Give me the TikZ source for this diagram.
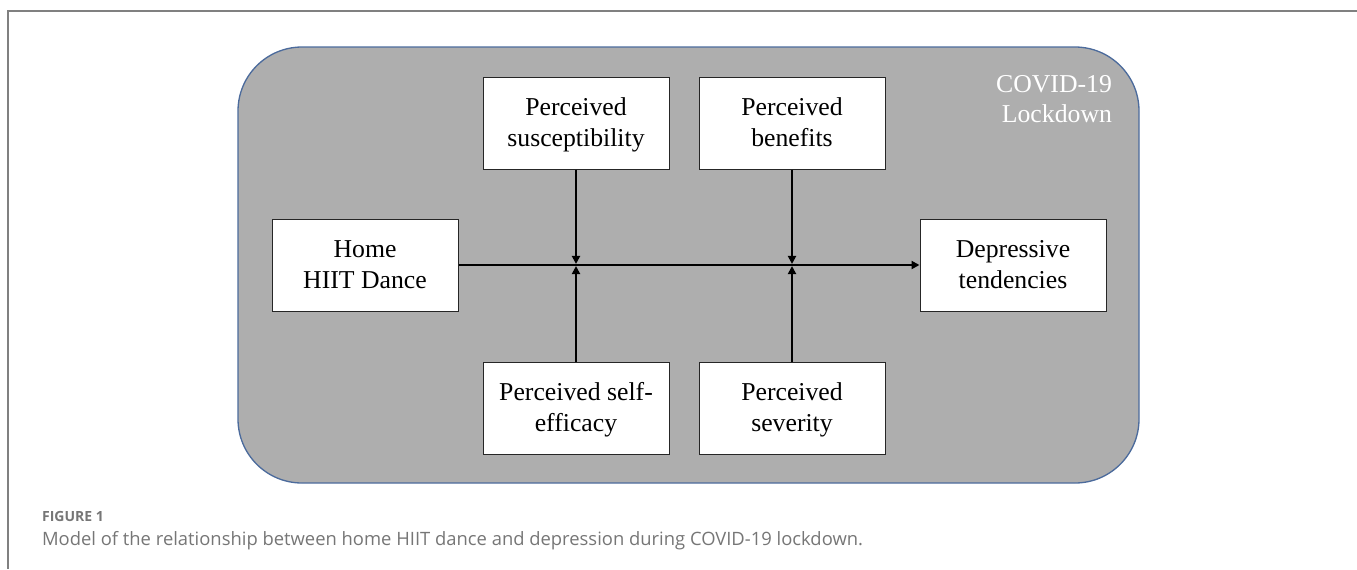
\documentclass[tikz,border=0pt]{standalone}
\usepackage{fontspec}
\setmainfont{Liberation Serif}
\newfontfamily\capfont{Open Sans}
\usetikzlibrary{arrows.meta}
\definecolor{panelgray}{RGB}{174,174,174}
\definecolor{panelblue}{RGB}{76,107,156}
\definecolor{framegray}{RGB}{128,128,128}
\definecolor{capgray}{RGB}{118,118,118}
\newcommand{\bstrut}{\rule[-4.5pt]{0pt}{20.25pt}}

\begin{document}
\begin{tikzpicture}[x=0.75pt, y=-0.75pt, ->, >={Triangle[length=6pt, width=6pt]}, line width=1.6pt,
    main/.style = {draw=black!85, line width=0.75pt, fill=white, minimum width=139.5pt, minimum height=69pt, inner sep=0pt, align=center, font=\fontsize{19.3}{23.25}\selectfont}]
    \useasboundingbox (0,0) rectangle (1357,569);

    % Frame
    \draw[-, framegray, line width=1.1pt] (1357,11) -- (8,11) -- (8,569);
    \draw[-, panelblue, fill=panelgray, line width=1pt, rounded corners=48pt] (238,47) rectangle (1139,483);

    % Nodes
    \node[main] (1) at (365,265) {\bstrut Home\\\bstrut HIIT Dance};
    \node[main] (2) at (576,123) {\bstrut Perceived\\\bstrut susceptibility};
    \node[main] (3) at (792,123) {\bstrut Perceived\\\bstrut benefits};
    \node[main] (4) at (576,408.5) {\bstrut Perceived self-\\\bstrut efficacy};
    \node[main] (5) at (792,408.5) {\bstrut Perceived\\\bstrut severity};
    \node[main] (6) at (1013,265) {\bstrut Depressive\\\bstrut tendencies};
    \node[anchor=north east, inner sep=0pt, align=right, text=white, font=\fontsize{19.3}{22.5}\selectfont] (7) at (1113,74) {COVID-19\\Lockdown};

    % Edges
    \draw (1) -- (6);
    \draw[shorten >=0.8pt] (2) -- (2 |- 1);
    \draw[shorten >=0.8pt] (3) -- (3 |- 1);
    \draw[shorten >=0.8pt] (4) -- (4 |- 1);
    \draw[shorten >=0.8pt] (5) -- (5 |- 1);

    % Caption
    \node[anchor=base west, inner sep=0pt, text=capgray, font=\capfont\bfseries\fontsize{10.5}{12}\selectfont] (8) at (41,521) {FIGURE 1};
    \node[anchor=base west, inner sep=0pt, text=capgray, font=\capfont\fontsize{13.8}{15}\selectfont] (9) at (41,545) {Model of the relationship between home HIIT dance and depression during COVID-19 lockdown.};
\end{tikzpicture}
\end{document}
